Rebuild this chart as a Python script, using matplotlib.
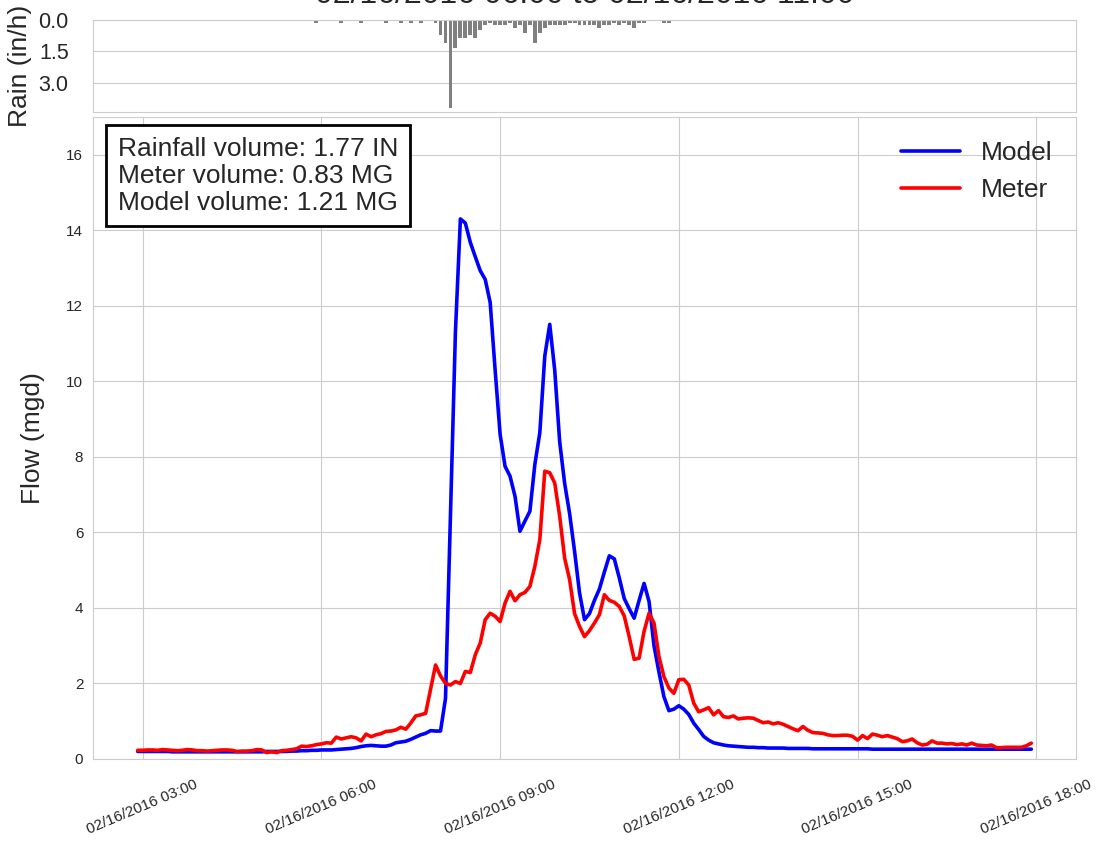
import matplotlib
matplotlib.use("Agg")
import matplotlib.pyplot as plt
import matplotlib.dates as mdates
import pandas as pd
import seaborn as sns

# 5-minute flow series, 02/16/2016 02:55 - 17:55
flow_start = "2016-02-16 02:55"
model_mgd = [
    0.20, 0.20, 0.20, 0.20, 0.20, 0.20, 0.20, 0.19, 0.19, 0.19,
    0.19, 0.19, 0.19, 0.19, 0.19, 0.19, 0.19, 0.19, 0.19, 0.19,
    0.19, 0.19, 0.19, 0.19, 0.19, 0.19, 0.20, 0.20, 0.20, 0.20,
    0.20, 0.21, 0.21, 0.22, 0.22, 0.23, 0.23, 0.24, 0.24, 0.24,
    0.25, 0.26, 0.27, 0.28, 0.30, 0.33, 0.35, 0.36, 0.35, 0.34,
    0.34, 0.37, 0.43, 0.45, 0.47, 0.52, 0.58, 0.64, 0.68, 0.75,
    0.74, 0.74, 1.60, 6.50, 11.30, 14.30, 14.19, 13.68, 13.30, 12.93,
    12.70, 12.09, 10.30, 8.60, 7.75, 7.49, 6.96, 6.03, 6.30, 6.56,
    7.80, 8.64, 10.67, 11.51, 10.30, 8.40, 7.30, 6.50, 5.50, 4.40,
    3.69, 3.85, 4.20, 4.50, 4.95, 5.38, 5.30, 4.80, 4.25, 3.98,
    3.73, 4.20, 4.65, 4.17, 3.00, 2.30, 1.65, 1.28, 1.32, 1.41,
    1.32, 1.18, 0.95, 0.78, 0.60, 0.50, 0.43, 0.40, 0.37, 0.35,
    0.34, 0.33, 0.32, 0.31, 0.31, 0.30, 0.30, 0.29, 0.29, 0.29,
    0.29, 0.28, 0.28, 0.28, 0.28, 0.28, 0.27, 0.27, 0.27, 0.27,
    0.27, 0.27, 0.27, 0.27, 0.27, 0.27, 0.27, 0.27, 0.26, 0.26,
    0.26, 0.26, 0.26, 0.26, 0.26, 0.26, 0.26, 0.26, 0.26, 0.26,
    0.26, 0.26, 0.26, 0.26, 0.26, 0.26, 0.26, 0.26, 0.26, 0.26,
    0.26, 0.26, 0.26, 0.26, 0.26, 0.26, 0.26, 0.26, 0.26, 0.26, 0.26,
]
meter_mgd = [
    0.23, 0.23, 0.24, 0.24, 0.23, 0.25, 0.24, 0.23, 0.22, 0.23,
    0.25, 0.24, 0.22, 0.22, 0.21, 0.22, 0.23, 0.24, 0.24, 0.23,
    0.20, 0.21, 0.21, 0.22, 0.25, 0.24, 0.17, 0.19, 0.17, 0.22,
    0.23, 0.25, 0.27, 0.34, 0.33, 0.35, 0.38, 0.40, 0.43, 0.42,
    0.58, 0.53, 0.56, 0.59, 0.56, 0.48, 0.66, 0.59, 0.64, 0.67,
    0.73, 0.74, 0.77, 0.84, 0.79, 0.95, 1.14, 1.17, 1.21, 1.85,
    2.49, 2.20, 2.00, 1.96, 2.05, 2.00, 2.32, 2.29, 2.76, 3.07,
    3.69, 3.86, 3.78, 3.64, 4.13, 4.44, 4.19, 4.35, 4.41, 4.57,
    5.10, 5.81, 7.62, 7.58, 7.31, 6.43, 5.32, 4.75, 3.85, 3.51,
    3.24, 3.40, 3.60, 3.82, 4.35, 4.20, 4.15, 4.04, 3.79, 3.24,
    2.64, 2.67, 3.38, 3.86, 3.60, 2.71, 2.18, 1.88, 1.74, 2.10,
    2.11, 1.96, 1.48, 1.25, 1.30, 1.36, 1.17, 1.28, 1.12, 1.10,
    1.14, 1.06, 1.08, 1.09, 1.08, 1.02, 0.96, 0.98, 0.93, 0.96,
    0.92, 0.86, 0.80, 0.75, 0.86, 0.76, 0.70, 0.69, 0.68, 0.64,
    0.62, 0.62, 0.63, 0.63, 0.60, 0.50, 0.62, 0.54, 0.66, 0.63,
    0.59, 0.62, 0.58, 0.54, 0.46, 0.48, 0.53, 0.43, 0.37, 0.39,
    0.48, 0.42, 0.42, 0.40, 0.41, 0.38, 0.40, 0.37, 0.42, 0.37,
    0.36, 0.35, 0.37, 0.30, 0.30, 0.31, 0.31, 0.31, 0.31, 0.35, 0.42,
]

# 5-minute rain intensity (in/h), 05:55 - 11:50
rain_start = "2016-02-16 05:55"
rain_inh = [
    0.12, 0, 0, 0, 0, 0.12, 0, 0, 0, 0.12, 0, 0, 0, 0, 0.12, 0, 0, 0.12,
    0, 0.12, 0, 0.12, 0, 0, 0.12,
    0.72, 1.08, 4.20, 1.32, 0.84, 0.84, 0.72, 0.84, 0.48, 0.24, 0.12, 0.24,
    0.24, 0.24, 0.12, 0.36, 0.24, 0.60, 0.24, 1.08, 0.60, 0.36, 0.24, 0.24,
    0.24, 0.24, 0.12, 0.12, 0.24, 0.24, 0.24, 0.24, 0.36, 0.24, 0.24, 0.12,
    0.24, 0.12, 0.24, 0.36, 0.12, 0.12, 0, 0, 0, 0.12, 0.12,
]

title = "02/16/2016 06:00 to 02/16/2016 11:00"
stats = ["Rainfall volume: 1.77 IN", "Meter volume: 0.83 MG", "Model volume: 1.21 MG"]

flow_time = pd.date_range(flow_start, periods=len(model_mgd), freq="5min")
rain_time = pd.date_range(rain_start, periods=len(rain_inh), freq="5min")

sns.set_style("whitegrid")
plt.rcParams["font.family"] = ["Liberation Sans", "DejaVu Sans"]

W, H = 1097, 843
fig = plt.figure(figsize=(W / 100, H / 100), dpi=100)
left, right = 93 / W, 1076 / W
ax_flow = fig.add_axes([left, 1 - 759 / H, right - left, (759 - 117) / H])
ax_rain = fig.add_axes([left, 1 - 112 / H, right - left, (112 - 20) / H], sharex=ax_flow)

# rain hyetograph
ax_rain.bar(rain_time, rain_inh, width=0.0027, color="grey", edgecolor="none", align="center")
ax_rain.set_ylim(max(rain_inh) * 1.05, 0)
ax_rain.set_yticks([0, 1.5, 3.0])
ax_rain.set_yticklabels(["0.0", "1.5", "3.0"])
ax_rain.tick_params(axis="y", labelsize=15.5, pad=14)
ax_rain.tick_params(axis="x", labelbottom=False)
ax_rain.grid(axis="x", visible=False)
ax_rain.set_ylabel("Rain (in/h)", fontsize=19, labelpad=5)

# flow hydrographs
ax_flow.plot(flow_time, model_mgd, color="blue", lw=2.6, label="Model")
ax_flow.plot(flow_time, meter_mgd, color="red", lw=2.6, label="Meter")
ax_flow.set_ylim(0, 17.0)
ax_flow.set_ylabel("Flow (mgd)", fontsize=19, labelpad=15)
ax_flow.tick_params(axis="y", labelsize=11)
ax_flow.tick_params(axis="x", labelsize=11, pad=10)
ax_flow.xaxis.set_major_locator(mdates.HourLocator(byhour=range(0, 24, 3)))
ax_flow.xaxis.set_major_formatter(mdates.DateFormatter("%m/%d/%Y %H:%M"))
plt.setp(ax_flow.get_xticklabels(), rotation=23, ha="center")

ax_flow.legend(loc="upper right", frameon=False, fontsize=19, handlelength=2.2)
ax_flow.text(0.0254, 0.969, "\n".join(stats), transform=ax_flow.transAxes,
             fontsize=19, va="top", ha="left", linespacing=1.15,
             bbox=dict(boxstyle="square,pad=0.45", fc="white", ec="black", lw=2))

fig.text(0.533, 1 - 3 / H, title, ha="center", va="baseline", fontsize=23, color=".15")

fig.savefig("out.png", dpi=100)
